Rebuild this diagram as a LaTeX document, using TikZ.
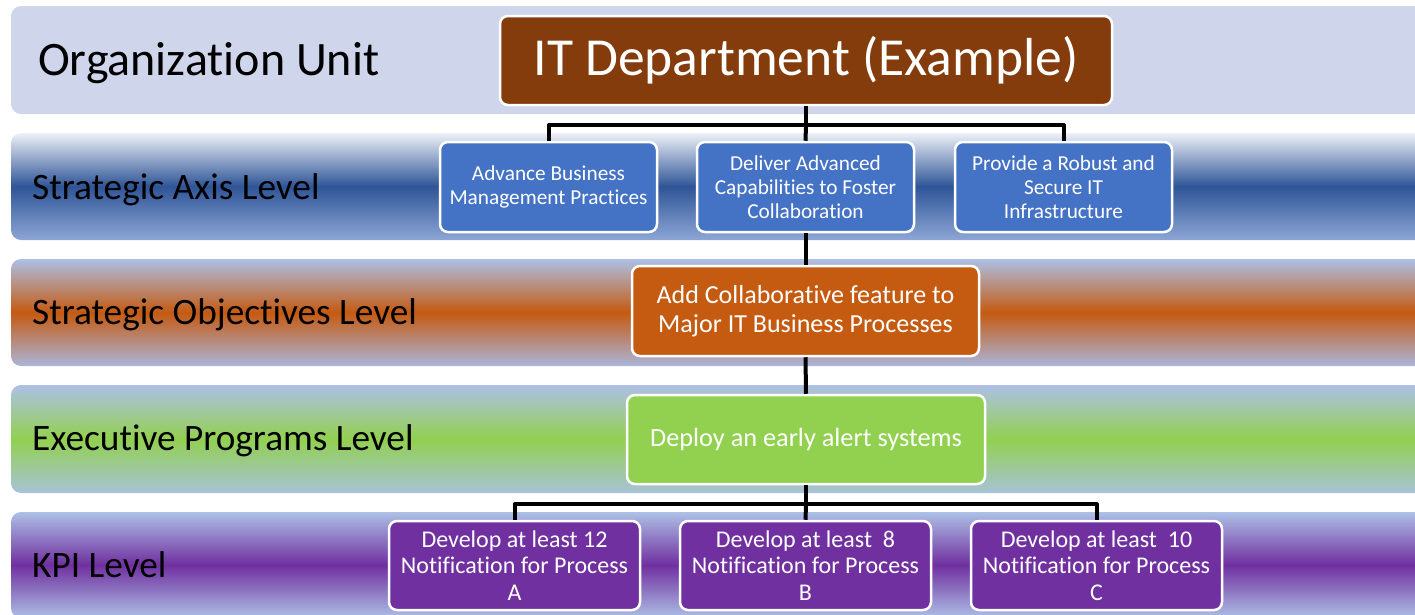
\documentclass[tikz,border=0pt]{standalone}
\usepackage{fontspec}
\setmainfont{Carlito}[Ligatures=NoCommon]
\definecolor{orgband}{HTML}{CFD5EA}
\definecolor{bandtop}{HTML}{ADC0E6}
\definecolor{axistop}{HTML}{EEF1F8}
\definecolor{axisdark}{HTML}{2F5597}
\definecolor{axisbottom}{HTML}{8DA6D6}
\definecolor{axisbox}{HTML}{4472C4}
\definecolor{itbrown}{HTML}{843C0C}
\definecolor{objorange}{HTML}{C55A11}
\definecolor{objbottom}{HTML}{ABB5DA}
\definecolor{proggreen}{HTML}{92D050}
\definecolor{progbottom}{HTML}{A8C2D8}
\definecolor{kpipurple}{HTML}{7030A0}
\begin{document}
\begin{tikzpicture}[x=1pt,y=-1pt,line join=round]
            \tikzset{band/.style={rounded corners=10pt},
                box/.style={draw=white,line width=2.5pt,rounded corners=8pt,text=white,align=center,inner sep=2pt},
                level/.style={anchor=base west,text=black,inner sep=0pt,font=\fontsize{37.3}{40}\selectfont},
                conn/.style={line width=4pt}}
            \useasboundingbox (0,0) rectangle (1415,614);
            \fill[band,orgband] (11,6) rectangle (1430,114);
            \shade[band,top color=axistop,bottom color=axisbottom,middle color=axisdark] (11,133) rectangle (1430,240);
            \shade[band,top color=bandtop,bottom color=objbottom,middle color=objorange] (11,259) rectangle (1430,366);
            \shade[band,top color=bandtop,bottom color=progbottom,middle color=proggreen] (11,385) rectangle (1430,493);
            \shade[band,top color=bandtop,bottom color=bandtop,middle color=kpipurple] (11,512) rectangle (1430,618);
            \node[level,font=\fontsize{48}{52}\selectfont] (lorg) at (38,75) {Organization Unit};
            \node[level] (lax) at (32,199) {Strategic Axis Level};
            \node[level] (lobj) at (32,324) {Strategic Objectives Level};
            \node[level] (lprog) at (32,450) {Executive Programs Level};
            \node[level] (lkpi) at (32,577) {KPI Level};
            \node[box,fill=itbrown,minimum width=612pt,minimum height=89pt,font=\fontsize{53.5}{56}\selectfont] (it) at (806,60.5) {IT Department (Example)};
            \node[box,fill=axisbox,minimum width=217pt,minimum height=90pt,font=\fontsize{21.3}{24}\selectfont] (ax1) at (548.5,187) {Advance Business\\Management Practices};
            \node[box,fill=axisbox,minimum width=217pt,minimum height=90pt,font=\fontsize{21.3}{24}\selectfont] (ax2) at (805.5,187) {Deliver Advanced\\Capabilities to Foster\\Collaboration};
            \node[box,fill=axisbox,minimum width=217pt,minimum height=90pt,font=\fontsize{21.3}{24}\selectfont] (ax3) at (1063.5,187) {Provide a Robust and\\Secure IT\\Infrastructure};
            \node[box,fill=objorange,minimum width=347pt,minimum height=90pt,font=\fontsize{26}{29}\selectfont] (obj) at (805.5,311) {Add Collaborative feature to\\Major IT Business Processes};
            \node[box,fill=proggreen,minimum width=358pt,minimum height=89pt,font=\fontsize{26.3}{28}\selectfont] (prog) at (806,439.5) {Deploy an early alert systems};
            \node[box,fill=kpipurple,minimum width=251pt,minimum height=89pt,font=\fontsize{24}{26.5}\selectfont] (kpi1) at (514.5,565.5) {Develop at least 12\\Notification for Process\\A};
            \node[box,fill=kpipurple,minimum width=251pt,minimum height=89pt,font=\fontsize{24}{26.5}\selectfont] (kpi2) at (805.5,565.5) {Develop at least\ \ 8\\Notification for Process\\B};
            \node[box,fill=kpipurple,minimum width=251pt,minimum height=89pt,font=\fontsize{24}{26.5}\selectfont] (kpi3) at (1096.5,565.5) {Develop at least\ \ 10\\Notification for Process\\C};
            \draw[conn] (it.south) -- ++(0,19) coordinate (itbus);
            \draw[conn] (ax1.north) |- (itbus) -| (ax3.north);
            \draw[conn] (itbus) -- (ax2.north);
            \draw[conn] (ax2.south) -- (obj.north);
            \draw[conn] (obj.south) -- (prog.north);
            \draw[conn] (prog.south) -- ++(0,19) coordinate (progbus);
            \draw[conn] (kpi1.north) |- (progbus) -| (kpi3.north);
            \draw[conn] (progbus) -- (kpi2.north);
        \end{tikzpicture}
\end{document}
